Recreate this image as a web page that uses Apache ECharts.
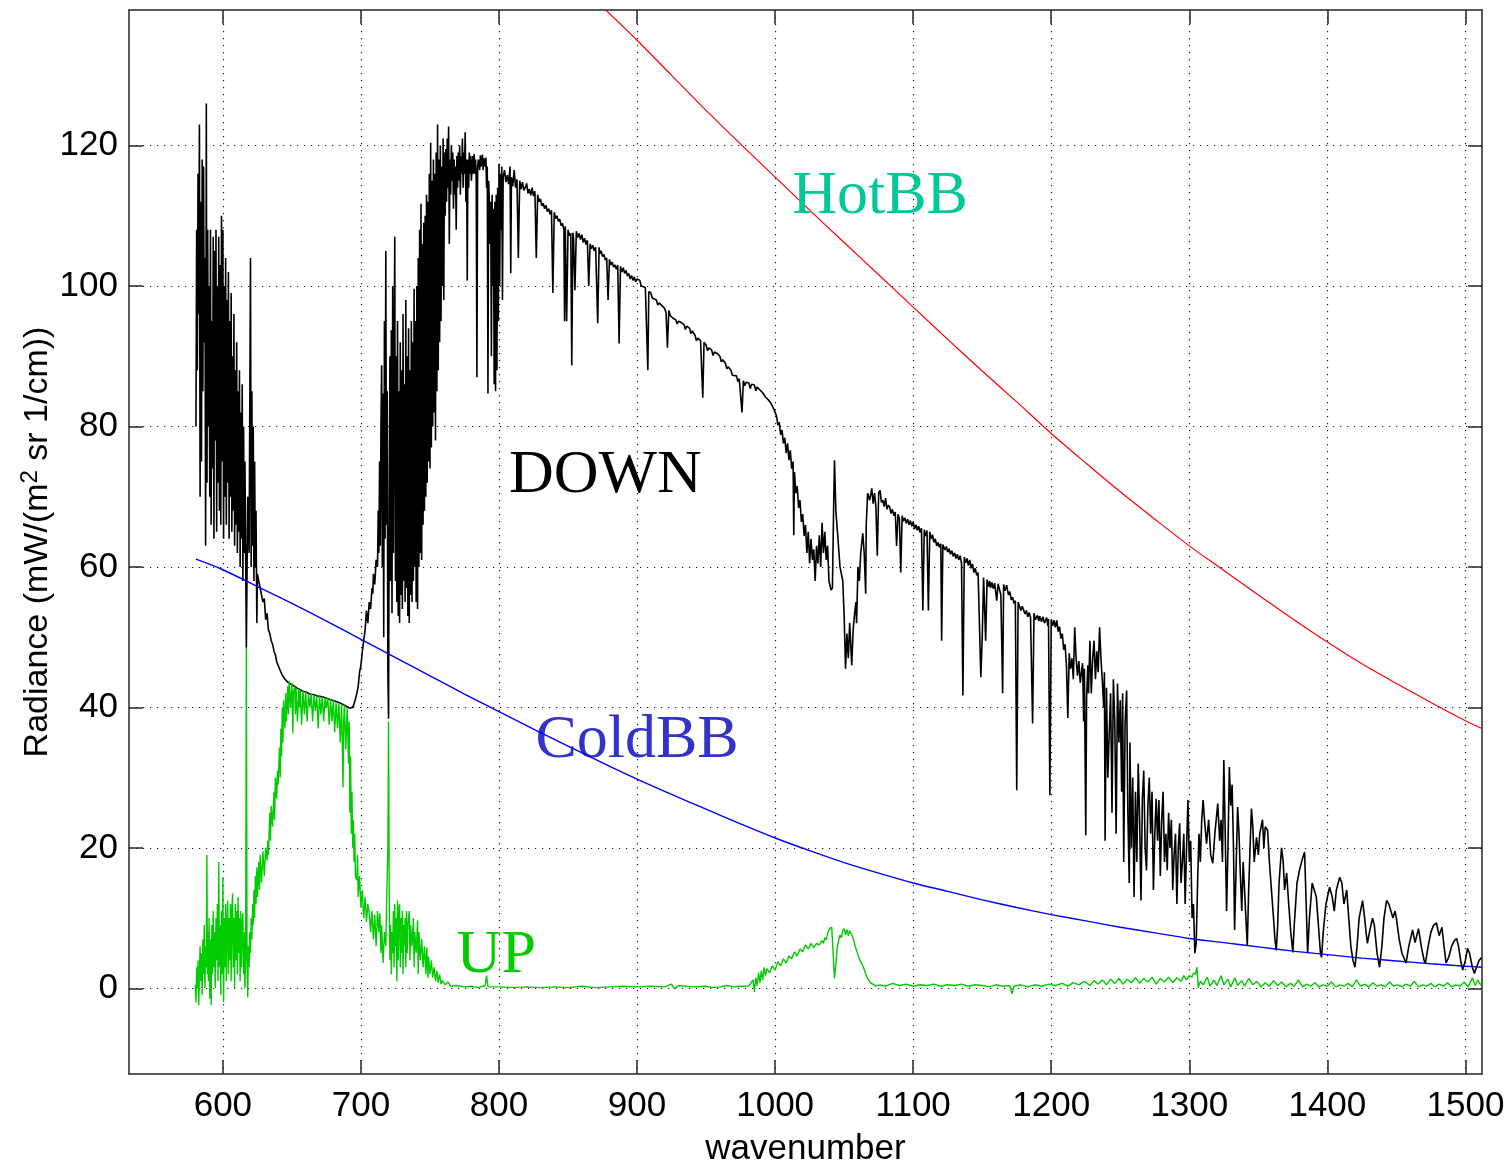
<!DOCTYPE html>
<html>
<head>
<meta charset="utf-8">
<style>
  html, body { margin: 0; padding: 0; background: #ffffff; }
  #chart { width: 1512px; height: 1164px; }
</style>
<script src="https://cdn.jsdelivr.net/npm/echarts@6/dist/echarts.min.js"></script>
</head>
<body>
<div id="chart"></div>
<script>
// Tick positions on the two axes
const xTicks = [600, 700, 800, 900, 1000, 1100, 1200, 1300, 1400, 1500];
const yTicks = [0, 20, 40, 60, 80, 100, 120];

// Downwelling radiance spectrum: [wavenumber, radiance]
const downSpectrum = [
  [580.5, 80], [581, 108], [581.5, 88], [582, 116], [582.5, 96], [583, 123], [583.5, 70], [584, 112], [584.5, 75],
  [585, 118], [585.5, 85], [586, 117], [586.5, 92], [587, 104], [587.5, 63], [588, 126], [588.5, 72], [589, 108],
  [589.5, 80], [590, 100], [590.5, 70], [591, 108], [591.5, 66], [592, 95], [592.5, 74], [593, 107], [593.5, 64],
  [594, 105], [594.5, 78], [595, 108], [595.5, 65], [596, 100], [596.5, 72], [597, 107], [597.5, 68], [598, 103],
  [598.5, 66], [599, 110], [599.5, 75], [600, 108], [600.5, 64], [601, 100], [601.5, 70], [602, 104], [602.5, 66],
  [603, 98], [603.5, 72], [604, 102], [604.5, 64], [605, 95], [605.5, 70], [606, 99], [606.5, 65], [607, 90],
  [607.5, 68], [608, 96], [608.5, 63], [609, 88], [609.5, 66], [610, 92], [610.5, 62], [611, 85], [611.5, 65],
  [612, 88], [612.5, 60], [613, 82], [613.5, 64], [614, 86], [614.5, 58], [615, 80], [615.5, 62], [616, 75],
  [617, 48.5], [618, 70], [619, 62], [620, 104], [620.5, 60], [621, 85], [621.5, 63], [622, 80], [622.5, 58],
  [623, 75], [623.5, 60], [624, 68], [624.6, 52], [625, 59], [626, 58], [627, 57],
  [628, 57], [629, 55], [630, 55.5], [631, 52.5], [632, 53.4], [633, 51], [634, 50.5], [635, 49.5], [636, 49],
  [637, 48], [638, 47.5], [639, 46.5], [640, 46.5], [641, 45.5], [642, 45.6], [643, 44.6], [644, 44.8], [645, 44],
  [646, 44.2], [647, 43.6], [648, 43.8], [650, 43.2], [652, 43], [654, 42.7], [656, 42.5], [658, 42.3], [660, 42.2],
  [663, 41.9], [666, 41.8], [669, 41.6], [672, 41.5], [675, 41.3], [678, 41.1], [681, 40.9], [684, 40.7], [687, 40.4],
  [690, 40.1], [692, 39.9], [694, 40], [695, 40.5], [696, 41.2], [697, 42], [698, 43], [699, 45], [700, 46],
  [701, 48], [702, 49.5], [703, 51], [704, 53.8], [705, 52], [706, 55], [707, 54], [708, 57], [708.6, 56.2],
  [709, 59], [710, 57.5], [711, 61], [712, 60], [712.5, 68], [713, 62], [713.5, 75], [714, 63], [714.5, 80],
  [715, 88.7], [715.5, 60], [716, 84.7], [716.5, 50], [717, 95], [717.5, 64], [718, 105], [718.5, 66], [719, 85],
  [719.5, 45], [720, 38.4], [720.5, 70], [721, 90], [721.5, 58], [722, 93.7], [722.5, 53.4], [723, 100], [723.5, 62],
  [724, 88], [724.5, 107], [725, 58], [725.5, 90], [726, 55], [726.5, 95], [727, 53], [727.5, 85], [728, 52],
  [728.5, 92], [729, 56], [729.5, 88], [730, 54], [730.5, 96], [731, 58], [731.5, 86], [732, 55], [732.5, 98],
  [733, 57], [733.5, 90], [734, 53], [734.5, 94], [735, 52], [735.5, 88], [736, 56], [736.5, 95], [737, 55],
  [737.5, 92], [738, 58], [738.5, 99.6], [739, 60], [739.5, 95], [740, 55], [740.5, 100], [741, 54], [741.5, 104],
  [742, 60], [742.5, 108], [743, 62], [743.5, 111.7], [744, 61], [744.5, 106], [745, 66], [745.5, 109], [746, 68],
  [746.5, 110], [747, 70], [747.5, 113], [748, 72], [748.5, 112], [749, 75], [749.5, 116], [750, 74], [750.5, 120.4],
  [751, 77], [751.5, 115], [752, 80], [752.5, 118], [753, 82], [753.5, 116], [754, 78], [754.5, 119], [755, 85],
  [755.5, 123], [756, 88], [756.5, 118], [757, 92], [757.5, 120], [758, 95], [758.5, 117], [759, 100], [759.5, 121],
  [760, 98], [760.5, 119], [761, 110], [761.5, 119.5], [762, 112], [762.5, 121], [763, 114], [763.5, 122.7], [764, 106],
  [764.5, 118], [765, 113], [765.5, 120], [766, 115], [766.5, 119], [767, 111], [767.5, 118], [768, 113], [768.5, 117],
  [769, 108], [769.5, 118.5], [770, 114], [770.5, 119], [771, 115], [771.5, 120], [772, 113], [772.5, 118.5], [773, 116],
  [773.5, 121], [774, 114], [774.5, 119], [775, 116], [775.5, 121.9], [776, 112], [776.5, 118], [777, 100.8], [777.5, 118],
  [778, 114], [778.5, 119], [779, 116], [779.5, 118.5], [780, 115], [781, 118.5], [781.5, 116], [782, 118.8], [782.5, 116],
  [783, 118], [783.5, 115], [784, 87], [784.5, 117], [785, 118], [786, 116.5], [786.5, 118.6], [787, 117], [788, 118.7],
  [788.5, 116.5], [789, 118.2], [790, 117], [790.5, 118.3], [791, 114], [791.5, 117], [792, 84.7], [792.5, 115], [793, 112],
  [793.5, 106], [794, 112], [794.5, 90], [795, 113], [795.5, 100], [796, 111], [796.5, 86], [797, 112], [797.5, 85],
  [798, 113], [798.5, 88], [799, 114], [799.5, 95], [800, 117.4], [800.5, 100], [801, 116], [801.5, 108], [802, 117],
  [802.5, 98], [803, 115.5], [804, 116.5], [805, 114.8], [806, 115.8], [807, 114.5], [808, 117], [808.5, 101.8], [809, 115.5],
  [810, 114.2], [811, 116.5], [812, 114], [813, 115.2], [814, 104], [815, 115], [816, 113.8], [817, 114.8], [818, 113.6],
  [819, 114], [820, 114.6], [821, 113.2], [822, 113.8], [823, 112.9], [824, 114], [825, 112.8], [826, 113.5], [827, 104],
  [828, 113], [829, 112], [830, 112.4], [831, 111.4], [832, 111.8], [833, 111], [834, 111.5], [835, 110.6], [836, 111],
  [837, 110.2], [838, 110.8], [839, 99], [840, 110.5], [841, 109.6], [842, 110], [843, 109.2], [844, 109.5], [845, 108.6],
  [846, 108.9], [847, 108], [847.5, 95], [848, 108.5], [849, 95], [850, 108], [851, 107.2], [852, 107.5], [852.7, 88.7],
  [853.5, 107.6], [854, 106.8], [855, 99.4], [856, 107.8], [857, 106.9], [858, 107.5], [859, 106.6], [860, 107.3],
  [861, 106.2], [862, 106.8], [863, 105.9], [864, 106.5], [865, 100], [866, 106], [867, 105.3], [868, 105.8], [869, 105],
  [870, 105.5], [871.5, 94.7], [872.5, 105.5], [873, 104.6], [874, 105], [875, 104.2], [876, 104.5], [877, 103.7],
  [878, 104], [879, 98], [880, 103.8], [881, 103], [882, 103.4], [883, 102.7], [884, 103], [885, 102.4], [886, 103],
  [887, 91.8], [888, 102.8], [889, 102], [890, 102.6], [891, 101.8], [892, 102.2], [893, 101.4], [894, 101.8], [895, 101],
  [896, 101.5], [897, 100.8], [898, 101.3], [899, 100.6], [900, 101], [902, 100.8], [903, 100], [904, 100.2], [906, 99.8],
  [907.8, 88], [908.5, 99.2], [910, 99], [911, 98.3], [912, 98.5], [914, 98], [915, 97.3], [916, 97.6], [918, 97.2],
  [920, 96.8], [921, 96.2], [922, 91.2], [923, 96.5], [924, 95.8], [926, 95.4], [928, 95.2], [929, 94.6], [930, 95],
  [932, 94.8], [934, 94.5], [935, 93.8], [936, 94.3], [938, 94], [939, 93.2], [940, 93.6], [942, 93], [943, 92.2],
  [944, 92.6], [946, 92.2], [947.6, 84.1], [948.5, 92], [950, 91.6], [951, 90.8], [952, 91.2], [954, 90.9], [955, 90.1],
  [956, 90.6], [958, 90.4], [960, 90], [961, 89.2], [962, 89.5], [964, 89], [965, 88.2], [966, 88.5], [968, 88],
  [969, 87.3], [970, 87.5], [972, 87.2], [973, 86.4], [974, 86.8], [976, 82], [977, 86.5], [978, 85.8], [979, 86.3],
  [981, 86.2], [982, 85.4], [983, 86], [985, 85.9], [986, 85.1], [987, 85.6], [989, 85.2], [991, 84.8], [993, 84.2],
  [995, 83.8], [997, 83.3], [999, 82.5], [1001, 81.5], [1002, 80.2], [1003, 80.6], [1004, 78.8], [1005, 79.5],
  [1006, 77.6], [1007, 78.4], [1008, 76.2], [1009, 77.6], [1010, 75.2], [1011, 76.6], [1012, 74], [1013, 75],
  [1013.5, 64.5], [1014, 73.5], [1015, 70.5], [1016, 71.5], [1017, 68.4], [1018, 69.5], [1019, 66.4], [1020, 67.5],
  [1021, 64.4], [1022, 66], [1023, 62], [1024, 65], [1025, 60.5], [1026, 64], [1027, 61], [1028, 62.5], [1029, 58],
  [1030, 63], [1031, 60.5], [1032, 64.5], [1033, 60], [1034, 66.3], [1035, 62], [1036, 65], [1037, 61], [1038, 63],
  [1039, 58], [1040.5, 56.7], [1041.5, 57], [1042.5, 70], [1043, 75.2], [1044, 68], [1045.6, 63.8], [1047, 60],
  [1049, 58], [1050, 53], [1051, 45.5], [1052, 50.5], [1053, 47], [1054, 52], [1055.5, 46], [1056.5, 51], [1057.6, 53.4],
  [1058.5, 55], [1059, 52], [1060, 60], [1061, 58], [1062, 62], [1063.5, 64.8], [1064.5, 62], [1065.6, 56.2], [1066, 66],
  [1067, 70.5], [1068.5, 69.5], [1070, 71.2], [1071, 69], [1072, 70.5], [1073, 68.5], [1074, 61.6], [1075, 70.6],
  [1076, 70.9], [1077, 69.2], [1078, 69.5], [1079, 68.6], [1080, 69.8], [1081, 68.2], [1082, 68.8], [1083, 68.5],
  [1084, 67.6], [1085, 68.2], [1086, 67.3], [1087, 67.8], [1088, 63], [1089, 67.5], [1090, 66.9], [1091, 59.2],
  [1092, 67.3], [1093, 66.5], [1094, 67], [1095, 66.2], [1096, 66.8], [1097, 66], [1098, 66.6], [1099, 65.8], [1100, 66.4],
  [1101, 65.4], [1102, 66], [1103, 65.2], [1104, 65.8], [1105, 64.9], [1106, 65.5], [1107, 53.8], [1108, 65.3],
  [1109, 64.4], [1110, 65.2], [1111, 53.8], [1112, 65], [1113, 64], [1114, 64.6], [1115, 63.5], [1116, 64], [1117, 63],
  [1118, 63.5], [1119, 62.8], [1120, 63.3], [1120.6, 49.5], [1121.5, 63.2], [1123, 62.4], [1124, 62.9], [1125, 62.1],
  [1126, 62.6], [1127, 61.8], [1128, 62.3], [1129, 61.5], [1130, 62], [1131, 61.2], [1132, 61.8], [1133, 61], [1134, 61.6],
  [1135, 60.5], [1136, 41.7], [1137, 61.4], [1138, 60.6], [1139, 61.2], [1140, 60.2], [1141, 61], [1142, 59.8],
  [1143, 60.4], [1144, 59.2], [1145, 59.8], [1146, 58.8], [1147, 59.2], [1148, 59], [1149, 44.3], [1150, 50],
  [1151, 58.5], [1152.5, 49.5], [1153.5, 58.2], [1154.5, 57.2], [1155.4, 58], [1156, 57], [1157, 57.8], [1158, 56.9],
  [1159, 57.7], [1160.5, 55.2], [1161.5, 57.6], [1162.6, 57.6], [1163.5, 56], [1164.8, 42], [1165.5, 57.5], [1166.5, 56.6],
  [1167.7, 57.4], [1169, 56], [1170, 56.5], [1171, 55.3], [1172, 55.7], [1173, 54.8], [1174, 55.2], [1175, 28.2],
  [1176, 55], [1177, 54.8], [1178, 53.8], [1179, 54.4], [1180, 54.2], [1181, 53.3], [1182, 53.8], [1183, 52.9],
  [1184, 53.5], [1185, 52.8], [1186.5, 37.7], [1187.5, 53.4], [1188.5, 52.5], [1190, 53.1], [1191, 52.3], [1191.6, 53],
  [1193, 52.2], [1194, 52.9], [1195, 52], [1196.7, 52.8], [1197.5, 51.6], [1198, 52.6], [1199, 27.5], [1200, 52.5],
  [1201, 51.6], [1202, 52.4], [1203, 51.4], [1204, 52.4], [1205, 50.8], [1206, 51.5], [1207, 49.8], [1208, 50.5],
  [1209, 48.2], [1210, 49], [1211, 46], [1212, 38.5], [1213, 47.7], [1214, 45.5], [1215, 47], [1216, 44], [1217, 51.4],
  [1218, 47], [1219, 44.5], [1220, 46.6], [1221, 43.5], [1222.7, 46.3], [1223.5, 38], [1224, 45.5], [1225, 21.8],
  [1225.6, 41.4], [1226.5, 46], [1227, 42], [1228, 49.5], [1229, 42], [1230, 47], [1231, 49.5], [1232, 44], [1233, 48],
  [1234, 45], [1235, 51.4], [1236, 47], [1237, 43.8], [1238, 40], [1238.5, 45], [1239, 21], [1240, 42.8], [1241, 30],
  [1242, 36.3], [1243, 42], [1244, 25], [1245, 44], [1246, 38], [1247, 22], [1248, 43.4], [1249, 35], [1250, 41],
  [1251, 28], [1251.7, 42], [1252.5, 18], [1253.5, 38], [1254.6, 42.4], [1255.5, 25], [1256.5, 15], [1257, 35],
  [1258, 20], [1259, 30], [1260, 13], [1261, 28], [1262, 18], [1263, 32], [1264, 24], [1265, 12.5], [1266, 27],
  [1267, 31], [1268, 20], [1269, 16.8], [1270, 26], [1271, 30], [1272, 22], [1273, 28], [1274, 14], [1275, 22],
  [1276, 27], [1277, 21], [1278, 26.8], [1279, 16], [1280, 24], [1281, 28], [1282, 18], [1283, 22], [1284, 16.8],
  [1285, 25], [1286, 20], [1287, 24], [1288, 14], [1289, 19], [1290, 22], [1291, 12], [1292, 20], [1293, 23.5],
  [1294, 15], [1295, 18], [1296, 22], [1297, 12], [1298, 20], [1299, 26.8], [1300, 18], [1301, 21], [1302, 10],
  [1303, 12], [1304, 5], [1305, 6.4], [1306, 15], [1307, 22], [1308, 18], [1309, 24], [1310, 26.8], [1311, 24],
  [1312.5, 20.6], [1314, 24], [1315.5, 19], [1317, 17.8], [1318.5, 22], [1320.6, 26.3], [1322, 21], [1323, 24],
  [1324, 18], [1325, 32.5], [1326, 22], [1327, 11], [1328, 20], [1329, 31.5], [1330, 26], [1331, 29], [1332, 20],
  [1332.8, 8.3], [1334, 18], [1335, 25.8], [1336, 22], [1337, 16], [1338, 11], [1339, 18], [1340, 14], [1341, 10],
  [1342, 6.1], [1343, 14], [1344, 20], [1345, 25.6], [1346, 23], [1347, 18], [1348.7, 21.5], [1350, 19], [1351, 22],
  [1353, 24], [1354, 20], [1355, 23], [1356.7, 22.5], [1358, 18], [1359.5, 14], [1361, 10], [1362, 7], [1363, 5.4],
  [1364, 9], [1365, 15], [1366.8, 20], [1368, 18], [1369, 14], [1370.5, 16.4], [1372, 12], [1373.5, 8], [1375, 5.1],
  [1376, 9], [1377, 12], [1378, 15], [1380, 17], [1382, 18.5], [1383.5, 19.4], [1384.5, 13], [1385.7, 5], [1387, 10],
  [1389, 15], [1390.5, 14], [1392, 13], [1393.5, 9], [1395, 5], [1395.8, 4.4], [1397, 8], [1399, 12], [1401.6, 14.4],
  [1403.5, 13], [1405, 11], [1406.5, 14], [1408.9, 15.8], [1410.5, 15], [1412, 12], [1414, 14], [1415.5, 10], [1417, 6],
  [1418.5, 4], [1420, 3], [1421.5, 6], [1423, 10], [1425.5, 12.5], [1427, 10], [1428, 8], [1429, 6.4], [1430.5, 8],
  [1432.7, 10], [1434, 9], [1436, 5], [1437.8, 3], [1439.5, 6], [1441, 10], [1442.9, 12.5], [1444.5, 12], [1446, 11],
  [1447.5, 10], [1449, 11], [1450, 10], [1452, 7], [1454, 5], [1457, 3.6], [1459, 6], [1461.7, 8.3], [1463.5, 6.5],
  [1466, 8.5], [1468, 6], [1470, 4], [1471, 3.6], [1473, 6], [1475, 8], [1477, 9], [1479, 9.3], [1481, 7.5], [1483, 8.7],
  [1484.5, 6], [1486, 3.6], [1488, 4.5], [1490, 6], [1492, 6.8], [1493.6, 7.1], [1495, 6], [1496.5, 4], [1498, 2.6],
  [1500, 4], [1501.5, 5.7], [1503, 5], [1505, 3], [1506.5, 2.1], [1508, 3], [1510, 4], [1511.7, 4.4]
];

// Upwelling radiance spectrum: [wavenumber, radiance]
const upSpectrum = [
  [580, 0.5], [580.5, -2], [581, 3], [581.5, 0], [582, 4], [582.5, -2.4], [583, 2], [583.5, 6], [584, 1], [584.5, 5],
  [585, -1], [585.5, 7], [586, 2], [586.5, 9], [587, 0], [587.5, 6], [588, 3], [588.4, 19], [588.8, 2], [589, 8],
  [589.5, 1], [590, 10], [590.5, -1.5], [591, 7], [591.5, -2.4], [592, 9], [592.5, 2], [593, 11], [593.5, 3], [594, 8],
  [594.5, 0], [595, 10], [595.5, 4], [596, 12], [596.5, 1], [597, 18], [597.5, 3], [598, 9], [598.5, -1], [599, 11],
  [599.5, 2], [600, 15.8], [600.5, -2], [601, 10], [601.5, 3], [602, 12], [602.5, 1], [603, 9], [603.5, 12.5], [604, 2],
  [604.5, 10], [605, 4], [605.5, 12], [606, 1], [606.5, 11], [607, 13.5], [607.5, 3], [608, 10], [608.5, 0], [609, 12],
  [609.5, 4], [610, 11], [610.5, 2], [611, 13], [611.5, 5], [612, 10], [612.5, 1], [613, 11], [613.5, 3], [614, 9],
  [614.5, 10.7], [615, 2], [615.5, 8], [616, 0], [616.5, 5], [617, 48.5], [617.5, 4], [618, -1.3], [618.5, 6], [619, 3],
  [619.5, 8], [620, 5], [620.5, 10], [621, 7], [621.5, 12], [622, 9], [622.5, 14], [623, 10], [623.5, 16], [624, 12],
  [624.6, 17.2], [625, 13], [626, 18], [626.5, 14], [627, 19], [628, 15], [629, 19.5], [630, 16], [631, 20], [632, 18.2],
  [632.5, 21], [633, 19], [634, 25], [634.5, 21], [635, 26], [636, 23], [637, 28], [637.5, 24], [638, 30], [639, 27],
  [639.5, 31], [640, 29], [641, 34.3], [641.5, 30], [642, 37], [642.5, 33], [643, 40], [643.5, 35], [644, 41], [645, 37],
  [645.5, 42], [646, 38], [647, 43], [647.5, 39], [648, 43.8], [649, 40], [650, 43.5], [650.7, 36.3], [651, 42],
  [652, 43], [652.5, 39], [653, 42.8], [654, 38], [655, 42.6], [655.5, 40], [656, 42.5], [657, 37.5], [658, 42.4],
  [659, 39], [660, 42.2], [661, 38], [662, 42], [663, 40], [664, 41.9], [665, 38], [666, 41.8], [667, 39.5], [668, 41.7],
  [669, 37], [670, 41.6], [671, 39], [672, 41.5], [673, 38], [674, 41.4], [675, 40], [676, 41.3], [677, 37.5], [678, 41.2],
  [679, 38], [680, 41], [681, 36.5], [682, 40.8], [683, 37], [684, 40.6], [685, 35], [686, 40.5], [687, 28.6], [687.5, 38],
  [688, 40.3], [689, 34], [690, 40], [691, 32], [691.5, 38], [692, 25], [692.5, 33], [693, 22], [693.5, 28], [694, 20],
  [694.5, 24], [695, 18], [695.5, 22], [696, 16], [697, 15.4], [697.5, 19], [698, 13], [699, 16], [700, 11.5], [701, 14],
  [702, 10], [703, 13], [704, 9.5], [705, 12], [706, 10.7], [707, 8], [708, 11], [709, 7], [710, 10.5], [711, 6],
  [712, 11], [713, 8], [713.7, 10.7], [714.5, 5], [715, 9], [716, 3.6], [717, 8], [718, 6], [718.8, 14], [719.5, 20],
  [720, 38], [720.5, 12], [721, 4], [721.5, 9], [722, 2], [722.5, 8], [723, 5], [723.5, 11], [724, 3], [724.5, 12],
  [725, 6], [725.5, 10], [726, 1], [726.5, 12.5], [727, 4], [727.5, 11], [728, 12], [728.5, 3], [729, 10], [729.5, 5],
  [730, 11], [730.5, 2], [731, 9], [731.5, 6], [732, 10], [732.5, 3], [733, 11], [733.5, 5], [734, 9], [735, 11],
  [735.5, 4], [736, 9], [737, 6], [738, 10], [738.5, 3], [739, 8], [740, 5], [741, 9.7], [741.5, 2], [742, 8], [743, 4],
  [744, 7], [745, 3], [746, 6], [747, 2], [747.7, 5.8], [748.5, 1.5], [749, 4.5], [750, 2], [751, 4], [752, 1.5],
  [753, 3], [754, 1], [755, 2.5], [756, 0.8], [757, 2], [758, 0.6], [759, 1.1], [761, 0.5], [763, 0.9], [765, 0.3],
  [769, 0.4], [775, 0.2], [780, 0.3], [785, 0.1], [790, 0.4], [791, 1.8], [792, 0.2], [800, 0.2], [810, 0.1], [820, 0.2],
  [830, 0.1], [840, 0.2], [850, 0.1], [860, 0.3], [870, 0.1], [880, 0.2], [890, 0.3], [900, 0.2], [910, 0.3], [920, 0.2],
  [925, 0.6], [927, -0.1], [930, 0.4], [940, 0.2], [950, 0.3], [955, 0.1], [960, 0.2], [965, 0.4], [970, 0.2], [975, 0.3],
  [980, 0.3], [982, 0.6], [984, 1.2], [985, -0.5], [986, 1.5], [987, 0.4], [988, 2.2], [989, 0.8], [990, 2.5], [991, 1.2],
  [992, 3], [993, 1.8], [994, 2.8], [996, 2.2], [998, 3.2], [1000, 2.6], [1002, 3.8], [1004, 3.2], [1006, 4.2],
  [1008, 3.6], [1010, 4.6], [1012, 4.2], [1014, 5.2], [1016, 4.6], [1018, 5.6], [1020, 5.2], [1022, 6.2], [1024, 5.6],
  [1026, 6.4], [1028, 5.8], [1030, 6.4], [1032, 6.2], [1034, 6.8], [1035, 6.4], [1036, 7.2], [1037, 6.9], [1038, 7.8],
  [1039.5, 8.5], [1041, 8.7], [1042, 5], [1043, 1.4], [1044, 3.5], [1045, 5.8], [1046, 6.8], [1047, 7.6], [1048, 7.2],
  [1049, 8.2], [1050, 8.5], [1051, 7.6], [1052, 8.4], [1053, 7.5], [1054, 8.2], [1055, 7.8], [1056, 7.4], [1057, 6.8],
  [1058, 6], [1059, 5.4], [1060, 4.8], [1061, 4.2], [1062, 3.8], [1063, 3.4], [1064, 3], [1065, 2.4], [1066, 1.8],
  [1067, 1.4], [1068, 1.1], [1069, 0.8], [1070, 0.6], [1073, 0.3], [1076, 0.5], [1080, 0.3], [1085, 0.7], [1090, 0.4],
  [1095, 0.6], [1100, 0.3], [1105, 0.5], [1110, 0.4], [1115, 0.6], [1120, 0.3], [1125, 0.5], [1130, 0.4], [1135, 0.6],
  [1140, 0.3], [1145, 0.5], [1150, 0.4], [1155, 0.2], [1160, 0.5], [1165, 0.3], [1170, 0.4], [1171.5, -0.8], [1173, 0.3],
  [1178, 0.5], [1183, 0.2], [1188, 0.5], [1193, 0.3], [1198, 0.6], [1203, 0.4], [1208, 0.7], [1212, 0.3], [1216, 0.8],
  [1220, 0.5], [1224, 1.0], [1228, 0.4], [1231, 1.1], [1234, 0.6], [1237, 1.2], [1240, 0.5], [1243, 1.3], [1246, 0.7],
  [1249, 1.4], [1252, 0.6], [1255, 1.3], [1258, 0.8], [1261, 1.5], [1264, 0.7], [1267, 1.4], [1270, 0.9], [1273, 1.6],
  [1276, 0.6], [1279, 1.4], [1282, 0.9], [1285, 1.6], [1288, 0.8], [1291, 1.5], [1294, 1.0], [1296, 1.8], [1298, 1.2],
  [1300, 1.8], [1302, 1.6], [1303, 2.2], [1304.5, 2.0], [1305.5, 3.0], [1306.5, 0.1], [1308, 1.0], [1310, 0.5],
  [1313, 1.6], [1315, 0.3], [1318, 1.2], [1320, 0.4], [1323, 1.8], [1325, 0.5], [1328, 1.3], [1330, 0.2], [1333, 1.5],
  [1335, 0.4], [1338, 1.1], [1340, 0.3], [1343, 1.4], [1346, 0.5], [1349, 1.0], [1352, 0.2], [1355, 0.8], [1358, 0.3],
  [1361, 1.1], [1364, 0.4], [1367, 0.9], [1370, 0.2], [1373, 0.7], [1376, 0.3], [1379, 1.2], [1382, 0.2], [1385, 0.6],
  [1388, 0.3], [1391, 0.8], [1394, 0.2], [1397, 0.5], [1400, 0.3], [1403, 0.9], [1406, 0.2], [1409, 0.5], [1412, 0.3],
  [1415, 0.7], [1418, 0.2], [1421, 1.2], [1424, 0.3], [1427, 0.6], [1430, 0.2], [1433, 0.8], [1436, 0.3], [1439, 0.5],
  [1442, 0.2], [1445, 0.9], [1448, 0.3], [1451, 0.5], [1454, 0.2], [1457, 0.6], [1460, 0.3], [1463, 1.0], [1466, 0.2],
  [1469, 0.5], [1472, 0.3], [1475, 0.7], [1478, 0.2], [1481, 0.6], [1484, 0.3], [1487, 0.8], [1490, 0.2], [1493, 0.5],
  [1496, 0.3], [1499, 0.9], [1502, 0.2], [1505, 1.5], [1507, 0.4], [1509, 1.2], [1511, 0.5], [1512, 0.8]
];

// Hot blackbody radiance curve: [wavenumber, radiance]
const hotBB = [
  [872, 140.3], [900, 135], [925, 130], [950, 125], [975, 120.2], [1000, 115.5], [1025, 110.8], [1050, 106.2],
  [1075, 101.6], [1100, 97], [1125, 92.4], [1150, 87.9], [1175, 83.5], [1200, 79], [1225, 74.8], [1250, 70.7],
  [1275, 66.8], [1300, 63], [1325, 59.5], [1350, 56], [1375, 52.6], [1400, 49.3], [1425, 46.2], [1450, 43.4],
  [1475, 40.7], [1500, 38.1], [1512, 37]
];

// Cold blackbody radiance curve: [wavenumber, radiance]
const coldBB = [
  [580.5, 61.1], [600, 59.6], [625, 57.2], [650, 54.8], [675, 52.3], [700, 49.7], [725, 47.1], [750, 44.5],
  [775, 41.9], [800, 39.4], [825, 36.9], [850, 34.5], [875, 32.1], [900, 29.8], [925, 27.6], [950, 25.5],
  [975, 23.4], [1000, 21.4], [1025, 19.6], [1050, 17.9], [1075, 16.4], [1100, 15.0], [1125, 13.8], [1150, 12.6],
  [1175, 11.5], [1200, 10.5], [1225, 9.6], [1250, 8.7], [1275, 7.9], [1300, 7.1], [1325, 6.5], [1350, 5.9],
  [1375, 5.3], [1400, 4.8], [1425, 4.3], [1450, 3.9], [1475, 3.5], [1500, 3.15], [1512, 3.0]
];

const chart = echarts.init(document.getElementById('chart'), null, { renderer: 'canvas' });

const frameColor = '#262626';
const sansFont = 'Liberation Sans';
const serifFont = 'Liberation Serif';

const frameLine = { show: true, onZero: false, lineStyle: { color: frameColor, width: 1.5 } };
const gridDots = { show: true, lineStyle: { color: '#1a1a1a', width: 1.2, type: [1.2, 5.8] } };

function frameTicks(values) {
  return { show: true, inside: true, length: 14, customValues: values, lineStyle: { color: frameColor, width: 1.5 } };
}

// Text label anchored at a data position, drawn as an invisible mark point
function tag(text, coord, color) {
  return {
    symbol: 'circle',
    symbolSize: 1,
    silent: true,
    animation: false,
    itemStyle: { color: 'rgba(0,0,0,0)' },
    label: {
      show: true, position: 'inside', formatter: text, color: color,
      fontFamily: serifFont, fontSize: 62
    },
    data: [{ coord: coord }]
  };
}

const xRange = { min: 532, max: 1512 };
const yRange = { min: -12.2, max: 139.3 };

chart.setOption({
  animation: false,
  backgroundColor: '#ffffff',
  grid: { left: 129, top: 10, right: 30, bottom: 90, containLabel: false, outerBoundsMode: 'none' },
  xAxis: [
    {
      type: 'value', position: 'bottom', ...xRange,
      name: 'wavenumber', nameLocation: 'middle', nameGap: 58,
      nameTextStyle: { fontFamily: sansFont, fontSize: 35, color: '#000' },
      axisLine: frameLine,
      axisTick: frameTicks(xTicks),
      axisLabel: {
        customValues: xTicks, fontFamily: sansFont, fontSize: 35, color: '#000', margin: 15,
        formatter: (v) => String(v)
      },
      splitLine: gridDots
    },
    {
      type: 'value', position: 'top', ...xRange,
      axisLine: frameLine,
      axisTick: frameTicks(xTicks),
      axisLabel: { show: false },
      splitLine: { show: false }
    }
  ],
  yAxis: [
    {
      type: 'value', position: 'left', ...yRange,
      name: '{t|Radiance (mW/(m}{s|2}{t| sr 1/cm))}',
      nameLocation: 'middle', nameRotate: 90, nameGap: 71, nameMoveOverlap: false,
      nameTextStyle: {
        color: '#000',
        rich: {
          t: { fontFamily: sansFont, fontSize: 34, color: '#000', lineHeight: 40 },
          s: { fontFamily: sansFont, fontSize: 24, color: '#000', lineHeight: 40, verticalAlign: 'top' }
        }
      },
      axisLine: frameLine,
      axisTick: frameTicks(yTicks),
      axisLabel: {
        customValues: yTicks, fontFamily: sansFont, fontSize: 35, color: '#000', margin: 11,
        formatter: (v) => String(v)
      },
      splitLine: gridDots
    },
    {
      type: 'value', position: 'right', ...yRange,
      axisLine: frameLine,
      axisTick: frameTicks(yTicks),
      axisLabel: { show: false },
      splitLine: { show: false }
    }
  ],
  series: [
    {
      name: 'DOWN', type: 'line', data: downSpectrum, showSymbol: false, symbol: 'none',
      lineStyle: { color: '#000000', width: 1.6 }, clip: true, z: 2,
      markPoint: tag('DOWN', [877, 73.0], '#000000')
    },
    {
      name: 'UP', type: 'line', data: upSpectrum, showSymbol: false, symbol: 'none',
      lineStyle: { color: '#00cc00', width: 1.4 }, clip: true, z: 3,
      markPoint: tag('UP', [798, 4.7], '#00cc00')
    },
    {
      name: 'HotBB', type: 'line', data: hotBB, smooth: 0.3, showSymbol: false, symbol: 'none',
      lineStyle: { color: '#ff0000', width: 1.2 }, clip: true, z: 4,
      markPoint: tag('HotBB', [1076, 112.7], '#00c896')
    },
    {
      name: 'ColdBB', type: 'line', data: coldBB, smooth: 0.3, showSymbol: false, symbol: 'none',
      lineStyle: { color: '#0000ff', width: 1.4 }, clip: true, z: 5,
      markPoint: tag('ColdBB', [900, 35.2], '#3333cc')
    }
  ]
});
</script>
</body>
</html>
